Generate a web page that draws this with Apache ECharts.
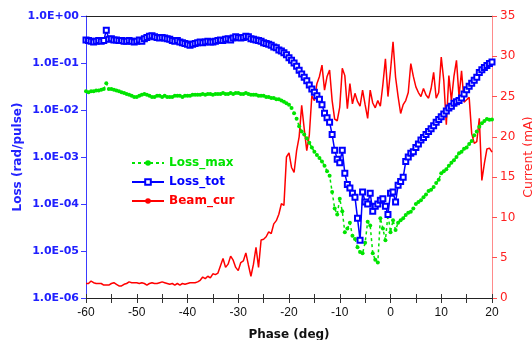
<!DOCTYPE html>
<html><head><meta charset="utf-8">
<script src="https://cdn.jsdelivr.net/npm/echarts@6/dist/echarts.min.js"></script>
<style>html,body{margin:0;padding:0;background:#fff}#c{width:532px;height:340px}</style>
</head><body><div id="c"></div>
<script>
const phase = [
-60,-59.5,-59,-58.5,-58,-57.5,-57,-56.5,-56,-55.5,
-55,-54.5,-54,-53.5,-53,-52.5,-52,-51.5,-51,-50.5,
-50,-49.5,-49,-48.5,-48,-47.5,-47,-46.5,-46,-45.5,
-45,-44.5,-44,-43.5,-43,-42.5,-42,-41.5,-41,-40.5,
-40,-39.5,-39,-38.5,-38,-37.5,-37,-36.5,-36,-35.5,
-35,-34.5,-34,-33.5,-33,-32.5,-32,-31.5,-31,-30.5,
-30,-29.5,-29,-28.5,-28,-27.5,-27,-26.5,-26,-25.5,
-25,-24.5,-24,-23.5,-23,-22.5,-22,-21.5,-21,-20.5,
-20,-19.5,-19,-18.5,-18,-17.5,-17,-16.5,-16,-15.5,
-15,-14.5,-14,-13.5,-13,-12.5,-12,-11.5,-11,-10.5,
-10,-9.5,-9,-8.5,-8,-7.5,-7,-6.5,-6,-5.5,
-5,-4.5,-4,-3.5,-3,-2.5,-2,-1.5,-1,-0.5,
0,0.5,1,1.5,2,2.5,3,3.5,4,4.5,
5,5.5,6,6.5,7,7.5,8,8.5,9,9.5,
10,10.5,11,11.5,12,12.5,13,13.5,14,14.5,
15,15.5,16,16.5,17,17.5,18,18.5,19,19.5,20
];
const lossMax = [
0.025,0.024,0.025,0.025,0.026,0.026,0.027,0.028,0.037,0.028,
0.028,0.027,0.026,0.025,0.024,0.023,0.022,0.021,0.020,0.019,
0.019,0.020,0.021,0.022,0.021,0.020,0.019,0.019,0.020,0.020,
0.019,0.020,0.019,0.019,0.019,0.020,0.020,0.020,0.019,0.020,
0.020,0.020,0.021,0.021,0.021,0.021,0.022,0.021,0.022,0.022,
0.021,0.022,0.022,0.022,0.023,0.022,0.022,0.023,0.022,0.023,
0.023,0.022,0.022,0.023,0.022,0.021,0.021,0.021,0.020,0.020,
0.020,0.019,0.019,0.018,0.018,0.017,0.017,0.016,0.015,0.014,
0.013,0.011,0.0085,0.0065,0.0045,0.0035,0.003,0.0025,0.002,0.0016,
0.0013,0.0011,0.00095,0.0008,0.00065,0.0005,0.0004,0.00018,0.00008,0.00006,
0.00013,0.00007,0.000025,0.00003,0.00004,0.000021,0.000018,0.000012,0.0000095,0.000009,
0.000015,0.000042,0.000035,0.000009,0.0000065,0.0000057,0.00005,0.00003,0.000017,0.00006,
0.000025,0.000045,0.000028,0.00004,0.000045,0.00005,0.000058,0.000065,0.000068,0.00008,
0.0001,0.00011,0.00012,0.00014,0.00016,0.00019,0.0002,0.00023,0.00028,0.00033,
0.00045,0.0005,0.00055,0.00065,0.00075,0.00085,0.001,0.0012,0.0013,0.0015,
0.0016,0.0019,0.0022,0.0029,0.0035,0.0044,0.0052,0.0058,0.0064,0.0062,0.0063
];
const lossTot = [
0.31,0.30,0.29,0.28,0.29,0.30,0.29,0.30,0.50,0.32,
0.33,0.31,0.31,0.30,0.30,0.29,0.29,0.30,0.29,0.28,
0.29,0.31,0.29,0.33,0.35,0.37,0.38,0.36,0.35,0.34,
0.35,0.34,0.33,0.32,0.30,0.29,0.30,0.28,0.27,0.26,
0.25,0.24,0.25,0.26,0.27,0.28,0.27,0.28,0.29,0.28,
0.28,0.29,0.30,0.31,0.30,0.32,0.33,0.31,0.34,0.36,
0.35,0.34,0.35,0.37,0.36,0.33,0.32,0.31,0.30,0.29,
0.27,0.26,0.25,0.24,0.22,0.21,0.19,0.18,0.165,0.15,
0.13,0.115,0.10,0.085,0.07,0.058,0.05,0.042,0.034,0.028,
0.024,0.02,0.017,0.013,0.0085,0.0068,0.0055,0.003,0.0014,0.0009,
0.00075,0.0014,0.00045,0.00026,0.00022,0.00017,0.00014,0.00005,0.000017,0.00018,
0.00011,0.0001,0.00017,0.00007,0.00009,0.0001,0.00012,0.00013,0.00009,0.00006,
0.00017,0.00018,0.00011,0.00025,0.0003,0.00037,0.0008,0.001,0.0012,0.0013,
0.0016,0.0019,0.0023,0.0026,0.003,0.0035,0.004,0.0046,0.0055,0.0063,
0.0072,0.0082,0.0095,0.011,0.012,0.014,0.015,0.016,0.018,0.022,
0.027,0.032,0.037,0.043,0.05,0.063,0.072,0.08,0.088,0.097,0.105
];
const beamCur = [
1.8,1.8,2.1,1.9,1.8,1.8,1.8,1.6,1.6,1.6,
1.8,1.9,1.7,1.5,1.5,1.7,1.8,2.0,1.9,1.9,
1.9,1.8,1.9,1.8,1.6,1.8,1.9,1.8,1.8,1.9,
2.0,1.9,1.8,1.7,1.8,1.6,1.8,1.6,1.8,1.7,
1.8,1.9,1.9,1.9,2.0,2.2,2.6,2.4,2.7,2.5,
3.0,2.9,3.1,4.0,4.9,3.8,4.2,5.2,4.7,3.8,
3.4,4.4,4.6,5.6,4.1,2.7,4.2,6.3,3.8,7.2,
7.3,7.6,8.2,8.0,9.2,9.6,10.4,11.7,11.5,17.5,
18.0,16.2,15.6,18.3,20.0,23.9,21.0,18.3,20.2,25.1,
24.5,26.6,27.5,28.9,25.8,27.5,28.3,24.5,22.2,22.0,
23.7,28.5,27.6,23.5,26.6,24.1,25.4,24.4,23.8,25.8,
24.0,22.3,25.8,24.2,23.6,24.5,23.8,26.5,29.7,25.0,
28.2,31.8,27.4,25.0,22.9,24.0,24.5,25.5,29.1,27.5,
26.2,25.5,25.0,26.0,25.2,24.8,26.0,28.0,24.8,25.5,
29.9,27.0,21.5,27.6,24.5,27.5,29.5,25.0,28.2,24.3,
24.6,24.9,20.4,19.2,19.4,22.3,14.6,16.7,18.5,18.6,18.1
];
const seriesNames = ['Loss_max', 'Loss_tot', 'Beam_cur'];
const xTickLabels = ['-60','-50','-40','-30','-20','-10','0','10','20'];
const yTickExponents = [-6,-5,-4,-3,-2,-1,0];
const yTickLabels = ['1.0E-06','1.0E-05','1.0E-04','1.0E-03','1.0E-02','1.0E-01','1.0E+00'];
const currentTicks = ['0','5','10','15','20','25','30','35'];

const GREEN = '#00e400', BLUE = '#0000ff', RED = '#ff0000';
const chart = echarts.init(document.getElementById('c'), null, {renderer: 'canvas'});
const pair = arr => phase.map((p, i) => [p, arr[i]]);
chart.setOption({
  animation: false,
  backgroundColor: '#fff',
  grid: {left: 86, right: 40, top: 16, bottom: 42, containLabel: false, outerBoundsMode: 'none'},
  legend: {
    orient: 'vertical', left: 126, top: 152, itemWidth: 32, itemHeight: 7, itemGap: 7,
    data: [
      {name: seriesNames[0], textStyle: {color: GREEN}},
      {name: seriesNames[1], textStyle: {color: BLUE}},
      {name: seriesNames[2], textStyle: {color: RED}}
    ],
    textStyle: {fontFamily: 'DejaVu Sans', fontWeight: 'bold', fontSize: 12}
  },
  xAxis: [{
    type: 'value', min: -60, max: 20, interval: 5, position: 'bottom',
    name: 'Phase (deg)', nameLocation: 'middle', nameGap: 31,
    nameTextStyle: {fontFamily: 'DejaVu Sans', fontWeight: 'bold', fontSize: 12, color: '#111'},
    axisLine: {onZero: false, lineStyle: {color: '#222', width: 1}},
    axisTick: {length: 5, lineStyle: {color: '#333'}},
    axisLabel: {margin: 9, fontFamily: 'Liberation Sans', fontSize: 12, color: '#111',
      formatter: v => xTickLabels.includes(String(v)) ? String(v) : ''},
    splitLine: {show: false}
  }, {
    type: 'value', min: -60, max: 20, interval: 5, position: 'bottom', offset: 0,
    axisLine: {show: false, onZero: false},
    axisTick: {inside: true, length: 4, lineStyle: {color: '#333'}},
    axisLabel: {show: false}, splitLine: {show: false}
  }, {
    type: 'value', min: -60, max: 20, position: 'top',
    axisLine: {onZero: false, lineStyle: {color: '#222', width: 1}},
    axisTick: {show: false}, axisLabel: {show: false}, splitLine: {show: false}
  }],
  yAxis: [{
    type: 'log', logBase: 10, min: 1e-6, max: 1, position: 'left',
    name: 'Loss (rad/pulse)', nameLocation: 'middle', nameGap: 62, nameRotate: 90, nameMoveOverlap: false,
    nameTextStyle: {fontFamily: 'DejaVu Sans', fontWeight: 'bold', fontSize: 12, color: '#2222ff'},
    axisLine: {show: true, onZero: false, lineStyle: {color: '#3a3aff', width: 1}},
    axisTick: {show: true, length: 5, lineStyle: {color: '#3a3aff'}},
    axisLabel: {margin: 7, fontFamily: 'DejaVu Sans', fontWeight: 'bold', fontSize: 11, color: '#2020ff',
      formatter: v => { const e = Math.round(Math.log10(v)); const i = yTickExponents.indexOf(e); return i >= 0 ? yTickLabels[i] : ''; }},
    splitLine: {show: false}
  }, {
    type: 'value', min: 0, max: 35, interval: 5, position: 'right',
    name: 'Current (mA)', nameLocation: 'middle', nameGap: 30, nameRotate: 90, nameMoveOverlap: false,
    nameTextStyle: {fontFamily: 'DejaVu Sans', fontSize: 12.5, color: '#ff2020'},
    axisLine: {show: true, onZero: false, lineStyle: {color: '#ff8a8a', width: 1}},
    axisTick: {show: true, length: 5, lineStyle: {color: '#ff5050'}},
    axisLabel: {margin: 8, fontFamily: 'DejaVu Sans', fontSize: 12, color: '#ff2020',
      formatter: v => currentTicks.includes(String(v)) ? String(v) : ''},
    splitLine: {show: false}
  }],
  series: [{
    name: seriesNames[0], type: 'line', xAxisIndex: 0, yAxisIndex: 0, data: pair(lossMax),
    symbol: 'circle', symbolSize: 4, showSymbol: true,
    lineStyle: {color: GREEN, width: 1.5, type: [3, 3]},
    itemStyle: {color: GREEN}
  }, {
    name: seriesNames[1], type: 'line', xAxisIndex: 0, yAxisIndex: 0, data: pair(lossTot),
    symbol: 'emptyRect', symbolSize: 5, showSymbol: true,
    lineStyle: {color: BLUE, width: 1.5},
    itemStyle: {color: BLUE, borderColor: BLUE, borderWidth: 1}
  }, {
    name: seriesNames[2], type: 'line', xAxisIndex: 0, yAxisIndex: 1, data: pair(beamCur),
    symbol: 'none', showSymbol: false,
    lineStyle: {color: RED, width: 1.5},
    itemStyle: {color: RED}
  }]
});
</script></body></html>
